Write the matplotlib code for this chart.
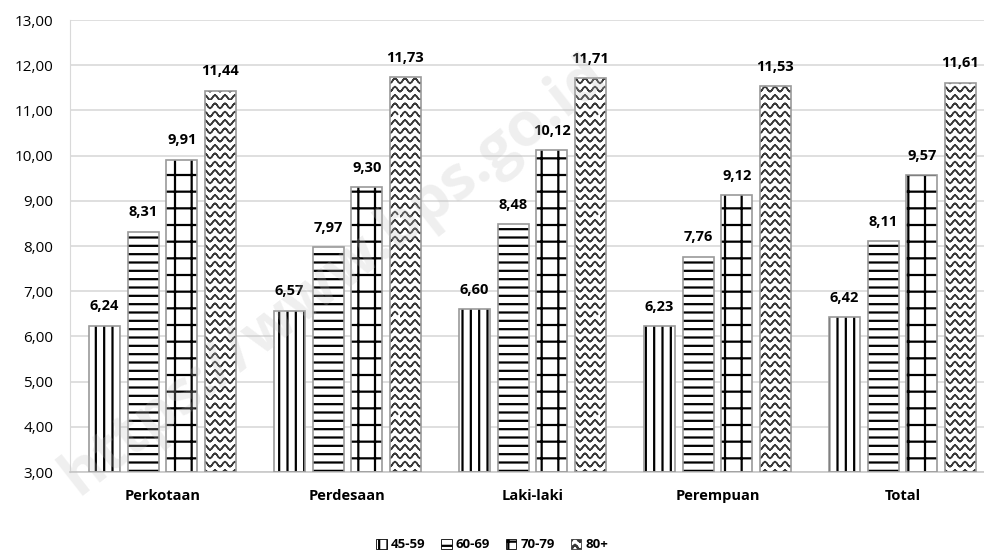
import numpy as np
import matplotlib
matplotlib.use('Agg')
import matplotlib.pyplot as plt
import matplotlib.hatch as mhatch
from matplotlib.path import Path
from matplotlib.patches import Patch
import warnings

warnings.filterwarnings('ignore')

categories = ['Perkotaan', 'Perdesaan', 'Laki-laki', 'Perempuan', 'Total']
groups = ['45-59', '60-69', '70-79', '80+']
v45_59 = [6.24, 6.57, 6.60, 6.23, 6.42]
v60_69 = [8.31, 7.97, 8.48, 7.76, 8.11]
v70_79 = [9.91, 9.30, 10.12, 9.12, 9.57]
v80 = [11.44, 11.73, 11.71, 11.53, 11.61]
series = [v45_59, v60_69, v70_79, v80]
yticks = [3, 4, 5, 6, 7, 8, 9, 10, 11, 12, 13]


# wavy hatch, excel style (traced there and back so the fill adds nothing)
class WaveHatch(mhatch.HatchPatternBase):
    def __init__(self, hatch, density):
        self.num_rows = hatch.count('~') * density
        self.periods = max(1, round(self.num_rows * 10 / 12))
        self.npts = self.periods * 6 + 1
        self.per_row = 2 * self.npts
        self.num_vertices = self.num_rows * self.per_row

    def set_vertices_and_codes(self, vertices, codes):
        n = self.num_rows
        amp = 0.3 / n
        t = np.linspace(0, 1, self.npts)
        wave = amp * (1 - np.cos(2 * np.pi * self.periods * t))
        tt = np.concatenate([t, t[::-1]])
        ww = np.concatenate([wave, wave[::-1]])
        i = 0
        for r in range(n):
            vertices[i:i + self.per_row, 0] = tt
            vertices[i:i + self.per_row, 1] = r / n + ww
            codes[i] = Path.MOVETO
            codes[i + 1:i + self.per_row] = Path.LINETO
            i += self.per_row


mhatch._hatch_types.append(WaveHatch)

plt.rcParams['font.family'] = ['Open Sans', 'DejaVu Sans']
plt.rcParams['hatch.linewidth'] = 1.6

hatches = ['||', '--', '+', '~~']
hatch_cols = ['black', 'black', 'black', '#3a3a3a']
hatch_lw = [1.6, 1.6, 1.6, 1.1]

fig = plt.figure(figsize=(9.84, 5.52), dpi=100)
ax = fig.add_axes([70 / 984, 80 / 552, 914 / 984, 452 / 552])

x = np.arange(len(categories))
w = 0.168
step = 0.209
for i, vals in enumerate(series):
    pos = x + (i - 1.5) * step
    with plt.rc_context({'hatch.linewidth': hatch_lw[i]}):
        ax.bar(pos, np.array(vals) - 3, w, bottom=3, color='white', edgecolor=hatch_cols[i],
               linewidth=0, hatch=hatches[i], zorder=2)
    ax.bar(pos, np.array(vals) - 3, w, bottom=3, fill=False, edgecolor='#9a9a9a',
           linewidth=1.2, zorder=3)
    for xp, v in zip(pos, vals):
        ax.annotate(f'{v:.2f}'.replace('.', ','), (xp, v), xytext=(0, 9),
                    textcoords='offset points', ha='center', va='bottom',
                    fontsize=10.5, fontweight='bold')

ax.set_ylim(3, 13)
ax.set_xlim(-0.5, -0.5 + 914 / 185)
ax.set_yticks(yticks)
ax.set_yticklabels([f'{t:.2f}'.replace('.', ',') for t in yticks], fontsize=11)
ax.set_xticks(x)
ax.set_xticklabels(categories, fontsize=10.5, fontweight='bold')
ax.tick_params(length=0, pad=12)
ax.tick_params(axis='y', pad=12)
ax.grid(axis='y', color='#d9d9d9', linewidth=1.2, zorder=0)
ax.set_axisbelow(True)
for s in ['top', 'right']:
    ax.spines[s].set_visible(False)
ax.spines['left'].set_color('#d9d9d9')
ax.spines['bottom'].set_color('#c8c8c8')
ax.spines['bottom'].set_linewidth(1.2)

# watermark
fig.text(0.34, 0.5, 'https://www.bps.go.id', fontsize=44, fontweight='bold',
         color='#bfbfbf', alpha=0.25, rotation=38, ha='center', va='center', zorder=10)

with plt.rc_context({'hatch.linewidth': 1.0}):
    handles = [Patch(facecolor='white', edgecolor=c, hatch=h, linewidth=0.6)
               for h, c in zip(hatches, hatch_cols)]
fig.legend(handles, groups, loc='center', bbox_to_anchor=(0.5, 1 - 545 / 552),
           ncol=4, frameon=False, prop={'weight': 'bold', 'size': 9.5},
           handlelength=0.8, handleheight=0.8, handletextpad=0.3, columnspacing=1.2)

fig.savefig('out.png', dpi=100)
